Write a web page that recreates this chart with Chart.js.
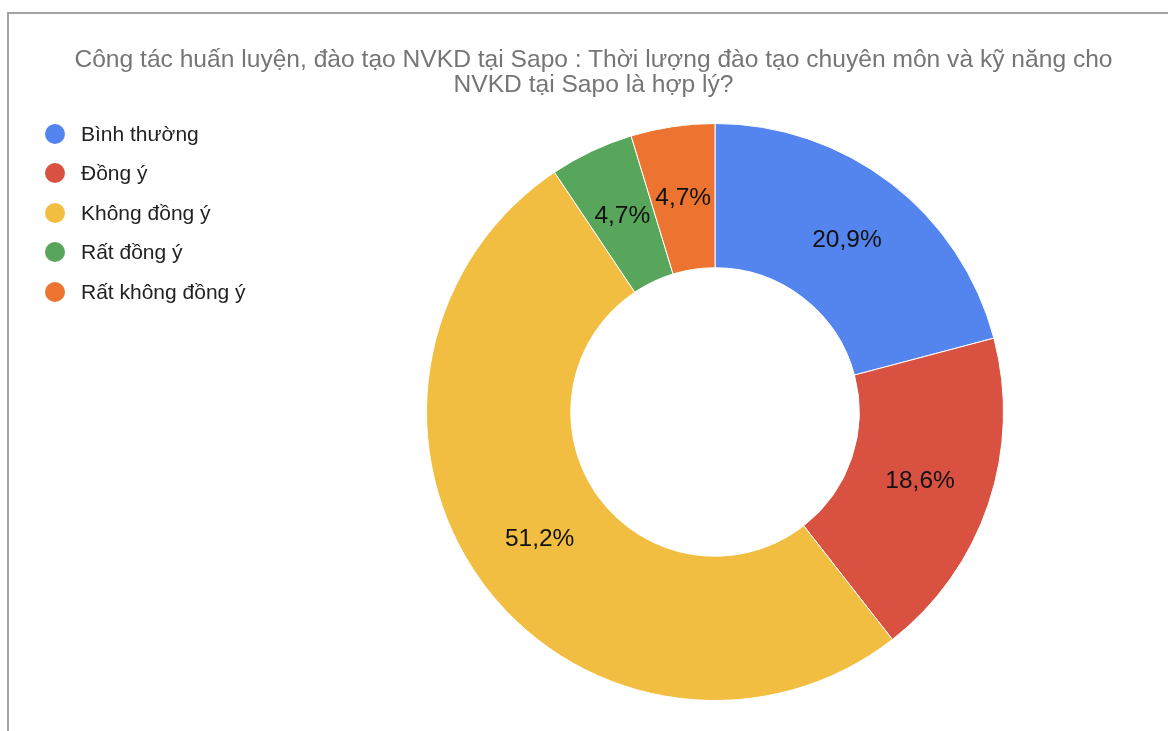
<!DOCTYPE html>
<html>
<head>
<meta charset="utf-8">
<script src="https://cdn.jsdelivr.net/npm/chart.js@4"></script>
<style>
  html, body { margin: 0; padding: 0; background: #fff; overflow: hidden; }
  body { width: 1168px; height: 731px; position: relative; font-family: "Liberation Sans", Arial, sans-serif; }
  .frame {
    position: absolute; left: 7px; top: 12px; right: -10px; bottom: -10px;
    border-top: 2px solid #a3a3a3; border-left: 2px solid #a3a3a3;
  }
  .title {
    position: absolute; left: 0; width: 1187px; top: 47px;
    text-align: center; font-size: 24.6px; line-height: 24.5px; color: #757575;
  }
  #legend { position: absolute; left: 45px; top: 114px; margin: 0; padding: 0; list-style: none; }
  #legend li { height: 39.5px; display: flex; align-items: center; font-size: 21px; color: #222; }
  #legend .dot { width: 20px; height: 20px; border-radius: 50%; margin-right: 16px; }
  #chart { position: absolute; left: 0; top: 0; }
</style>
</head>
<body>
<div class="frame"></div>
<canvas id="chart" width="1168" height="731"></canvas>
<div class="title">Công tác huấn luyện, đào tạo NVKD tại Sapo : Thời lượng đào tạo chuyên môn và kỹ năng cho<br>NVKD tại Sapo là hợp lý?</div>
<ul id="legend"></ul>
<script>
const labels = ['Bình thường', 'Đồng ý', 'Không đồng ý', 'Rất đồng ý', 'Rất không đồng ý'];
const values = [20.9, 18.6, 51.2, 4.7, 4.7];
const colors = ['#5484ED', '#D95140', '#F1BE42', '#58A55C', '#EC7430'];

// html legend
const legend = document.getElementById('legend');
labels.forEach((text, i) => {
  const li = document.createElement('li');
  const dot = document.createElement('span');
  dot.className = 'dot';
  dot.style.background = colors[i];
  li.appendChild(dot);
  li.appendChild(document.createTextNode(text));
  legend.appendChild(li);
});

// percent text in the middle of each slice
const sliceLabels = {
  id: 'sliceLabels',
  afterDatasetsDraw(chart) {
    const { ctx } = chart;
    const meta = chart.getDatasetMeta(0);
    ctx.save();
    ctx.font = '24.5px "Liberation Sans", Arial, sans-serif';
    ctx.fillStyle = '#111';
    ctx.textAlign = 'center';
    ctx.textBaseline = 'middle';
    meta.data.forEach((arc, i) => {
      const { x, y } = arc.tooltipPosition();
      ctx.fillText(values[i].toFixed(1).replace('.', ',') + '%', x, y);
    });
    ctx.restore();
  },
};

new Chart(document.getElementById('chart'), {
  type: 'doughnut',
  data: {
    labels,
    datasets: [{
      data: values,
      backgroundColor: colors,
      borderColor: '#fff',
      borderWidth: 1,
      hoverOffset: 0,
    }],
  },
  options: {
    responsive: false,
    animation: false,
    radius: 288.5,
    cutout: '50%',
    layout: { padding: { left: 262, top: 93 } },
    plugins: {
      legend: { display: false },
      tooltip: { enabled: false },
    },
  },
  plugins: [sliceLabels],
});
</script>
</body>
</html>
